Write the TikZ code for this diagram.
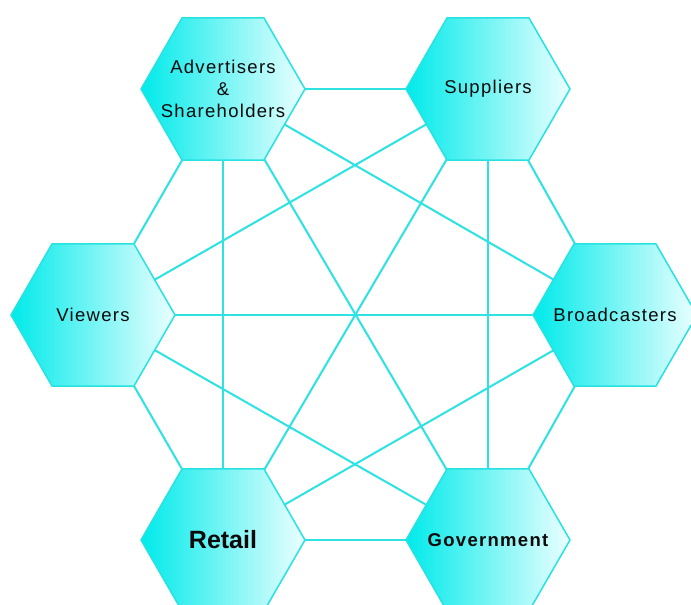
\documentclass[tikz,border=0pt]{standalone}
\usepackage{fontspec}
\setmainfont{Liberation Sans}
\newfontfamily\lblfont[LetterSpace=7]{Liberation Sans}
\usetikzlibrary{shapes.geometric}
\definecolor{hexleft}{RGB}{0,234,234}
\definecolor{hexright}{RGB}{236,255,255}
\definecolor{hexborder}{RGB}{40,226,226}
\definecolor{linkcol}{RGB}{45,226,226}
\definecolor{txtcol}{RGB}{10,10,10}
\tikzset{
  hexnode/.style={regular polygon, regular polygon sides=6, minimum size=164pt,
    inner sep=0pt, outer sep=0pt, draw=hexborder, line width=1.5pt,
    left color=hexleft, right color=hexright},
  hexlabel/.style={text=txtcol, align=center,
    font=\lblfont\fontsize{18.5}{22}\selectfont},
  boldlabel/.style={hexlabel, font=\lblfont\bfseries\fontsize{18.5}{22}\selectfont},
  biglabel/.style={text=txtcol, font=\fontspec{Liberation Sans}\bfseries\fontsize{25}{28}\selectfont},
  link/.style={draw=linkcol, line width=2pt}
}
\begin{document}
\begin{tikzpicture}[x=1pt,y=-1pt]
\useasboundingbox (0,0) rectangle (691,605);
\fill[white] (0,0) rectangle (691,605);
\node[hexnode, label={[hexlabel]center:Advertisers\\\&\\Shareholders}] (A) at (223,89) {};
\node[hexnode, label={[hexlabel]center:Suppliers}] (S) at (488,89) {};
\node[hexnode, label={[hexlabel]center:Viewers}] (V) at (93,315) {};
\node[hexnode, label={[hexlabel]center:Broadcasters}] (B) at (615,315) {};
\node[hexnode, label={[biglabel]center:Retail}] (R) at (223,540) {};
\node[hexnode, label={[boldlabel]center:Government}] (G) at (488,540) {};
\draw[link] (A) -- (S);
\draw[link] (A) -- (V);
\draw[link] (A) -- (B);
\draw[link] (A) -- (R);
\draw[link] (A) -- (G);
\draw[link] (S) -- (V);
\draw[link] (S) -- (B);
\draw[link] (S) -- (R);
\draw[link] (S) -- (G);
\draw[link] (V) -- (B);
\draw[link] (V) -- (R);
\draw[link] (V) -- (G);
\draw[link] (B) -- (R);
\draw[link] (B) -- (G);
\draw[link] (R) -- (G);
\end{tikzpicture}
\end{document}
